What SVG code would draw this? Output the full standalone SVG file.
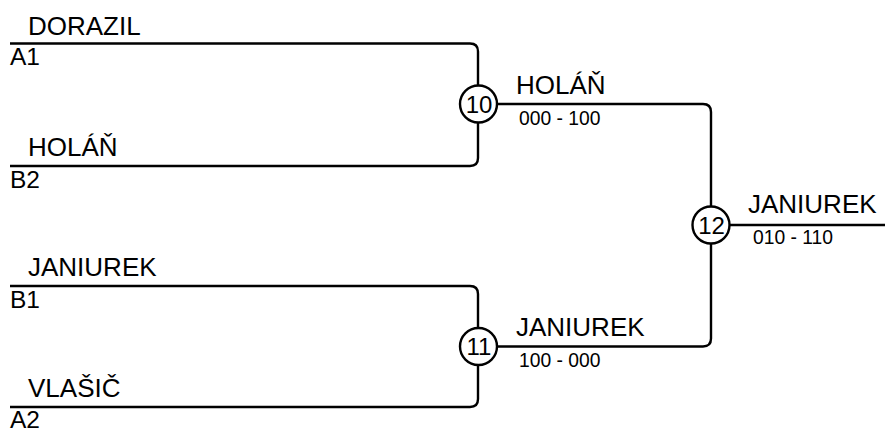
<svg xmlns="http://www.w3.org/2000/svg" width="885" height="430" viewBox="0 0 885 430">
<style>
.ln{fill:none;stroke:#000;stroke-width:2.4}
.c{fill:#fff;stroke:#000;stroke-width:2.4}
text{font-family:"Liberation Sans",Arial,sans-serif;fill:#000}
.nm{font-size:26px}
.sd{font-size:24.5px}
.sc{font-size:19.3px}
.num{font-size:24px;text-anchor:middle}
</style>
<rect width="885" height="430" fill="#fff"/>
<g id="connectors">
<path class="ln" d="M10,43.5 H470 Q478,43.5 478,51.5 V158 Q478,166 470,166 H10"/>
<path class="ln" d="M10,286 H470 Q478,286 478,294 V399 Q478,407 470,407 H10"/>
<path class="ln" d="M478,104 H703 Q711,104 711,112 V338.5 Q711,346.5 703,346.5 H478"/>
<path class="ln" d="M711,225 H885"/>
</g>
<g id="p-dorazil"><text class="nm" x="28" y="34.5">DORAZIL</text><text class="sd" x="10" y="65">A1</text></g>
<g id="p-holan"><text class="nm" x="28" y="156">HOLÁŇ</text><text class="sd" x="10" y="188">B2</text></g>
<g id="p-janiurek"><text class="nm" x="28" y="276">JANIUREK</text><text class="sd" x="10" y="308">B1</text></g>
<g id="p-vlasic"><text class="nm" x="28" y="397">VLAŠIČ</text><text class="sd" x="10" y="428">A2</text></g>
<g id="m10"><circle class="c" cx="478.5" cy="104" r="18.5"/><text class="num" x="479" y="112.5">10</text>
<text class="nm" x="516" y="94">HOLÁŇ</text><text class="sc" x="519" y="125">000 - 100</text></g>
<g id="m11"><circle class="c" cx="478.5" cy="346.5" r="18.5"/><text class="num" x="479" y="355">11</text>
<text class="nm" x="516" y="336">JANIUREK</text><text class="sc" x="519" y="367">100 - 000</text></g>
<g id="m12"><circle class="c" cx="711" cy="225" r="18.5"/><text class="num" x="711.5" y="233.5">12</text>
<text class="nm" x="748" y="213">JANIUREK</text><text class="sc" x="753" y="244">010 - 110</text></g>
</svg>
